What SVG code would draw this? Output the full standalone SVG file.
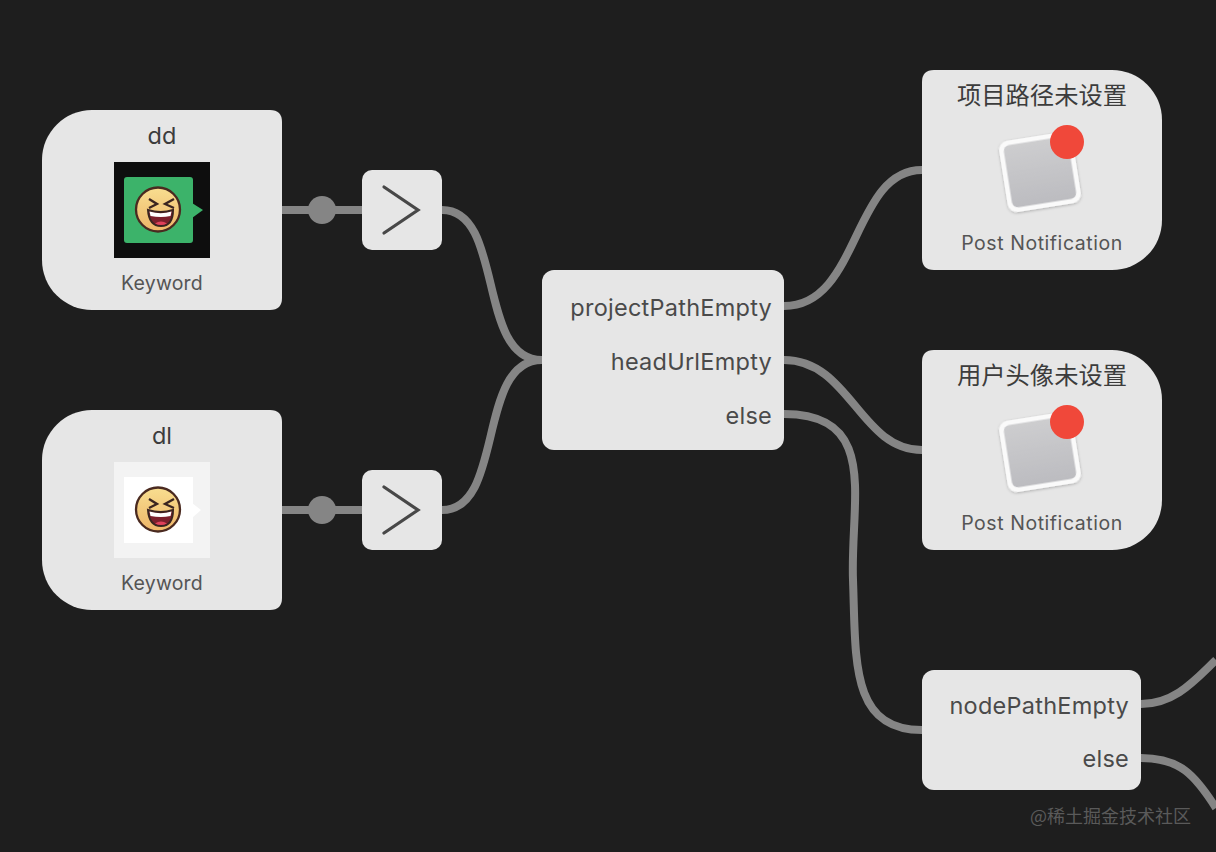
<svg xmlns="http://www.w3.org/2000/svg" width="1216" height="852" viewBox="0 0 1216 852">
<style>
.bg{fill:#1e1e1e}
.n{fill:#e6e6e6}
.c{fill:none;stroke:#858585;stroke-width:8}
.dot{fill:#858585}
.t{font-family:Inter,"Noto Sans CJK SC",sans-serif;fill:#3c3c3c}
.h{font-size:23.500px;text-anchor:middle}
.hz{font-size:24.300px;text-anchor:middle;font-family:"Noto Sans CJK SC",sans-serif}
.s{font-size:19.500px;text-anchor:middle;fill:#555;letter-spacing:.2px}
.p{letter-spacing:.55px}
.o{font-size:23.500px;text-anchor:end;fill:#4a4a4a;letter-spacing:.25px}
.gt{fill:none;stroke:#484848;stroke-width:3.200;stroke-linecap:round;stroke-linejoin:miter}
</style>
<defs>
<linearGradient id="face" x1="0" y1="0" x2="0" y2="1"><stop offset="0" stop-color="#f8de90"/><stop offset="1" stop-color="#eeb568"/></linearGradient>
<linearGradient id="tile" x1="0" y1="0" x2="0" y2="1"><stop offset="0" stop-color="#cdcdcf"/><stop offset="1" stop-color="#bcbcc0"/></linearGradient>
<filter id="sh" x="-20%" y="-20%" width="140%" height="140%"><feDropShadow dx="0" dy="1" stdDeviation="1.500" flood-color="#000" flood-opacity=".25"/></filter>
<g id="emoji">
<circle cx="0" cy="-0.500" r="22" fill="url(#face)" stroke="#4a2a20" stroke-width="2.300"/>
<path d="M-9-11-1-6-9-2M16-11 7-6 16-2" fill="none" stroke="#3a2420" stroke-width="2.300"/>
<path d="M-10 0Q3 4 15 0Q15 16 3 16Q-9 16-10 0Z" fill="#7c1f2c" stroke="#3a2420" stroke-width="2"/>
<path d="M-8.500 1.500Q3 5 13.500 1.500L12.500 6Q3 8-7.500 6Z" fill="#fff"/>
<path d="M-3 13.500Q3 9.500 9 13.500Q3 16.500-3 13.500Z" fill="#e0405a"/>
</g>
<g id="bell">
<g transform="rotate(-9 1040 172)" filter="url(#sh)">
<rect x="1003" y="136" width="74" height="72" rx="9" fill="#fafafa"/>
<rect x="1007.500" y="140.500" width="65" height="63" rx="6" fill="url(#tile)"/>
</g>
<circle cx="1067" cy="142" r="17" fill="#f0483a"/>
</g>
<path id="gt" class="gt" d="M384 187 418 210 384 233"/>
</defs>
<rect class="bg" width="1216" height="852"/>
<g id="connectors">
<path class="c" d="M282 210H362"/>
<circle class="dot" cx="322" cy="210" r="14"/>
<path class="c" d="M282 510H362"/>
<circle class="dot" cx="322" cy="510" r="14"/>
<path class="c" d="M442 210C505 210 476 360 542 360"/>
<path class="c" d="M442 510C505 510 476 360 542 360"/>
<path class="c" d="M784 306C860 306 852 170 922 170"/>
<path class="c" d="M784 360C850 360 860 450 922 450"/>
<path class="c" d="M784 414C880 414 850 500 853 580C856 660 850 730 922 730"/>
<path class="c" d="M1141 704C1175 704 1195 680 1216 660"/>
<path class="c" d="M1141 758C1180 758 1195 775 1216 808"/>
</g>
<g id="node-dd">
<path class="n" d="M92 110H270Q282 110 282 122V298Q282 310 270 310H92A50 50 0 0 1 42 260V160A50 50 0 0 1 92 110Z"/>
<text class="t h" x="162" y="144">dd</text>
<rect x="114" y="162" width="96" height="96" fill="#0e0e0e"/>
<rect x="124" y="177" width="69" height="66" rx="3" fill="#3cb36a"/>
<path d="M192 203 203 210 192 218Z" fill="#3cb36a"/>
<use href="#emoji" x="158" y="210"/>
<text class="t s" x="162" y="290">Keyword</text>
</g>
<g id="node-dl">
<path class="n" d="M92 410H270Q282 410 282 422V598Q282 610 270 610H92A50 50 0 0 1 42 560V460A50 50 0 0 1 92 410Z"/>
<text class="t h" x="162" y="444">dl</text>
<rect x="114" y="462" width="96" height="96" fill="#f3f3f3"/>
<rect x="124" y="477" width="69" height="66" fill="#fff"/>
<path d="M192 503 201 510 192 518Z" fill="#fff"/>
<use href="#emoji" x="158" y="510"/>
<text class="t s" x="162" y="590">Keyword</text>
</g>
<g id="node-gt1">
<rect class="n" x="362" y="170" width="80" height="80" rx="10"/>
<use href="#gt"/>
</g>
<g id="node-gt2">
<rect class="n" x="362" y="470" width="80" height="80" rx="10"/>
<use href="#gt" y="300"/>
</g>
<g id="node-switch1">
<rect class="n" x="542" y="270" width="242" height="180" rx="12"/>
<text class="t o" x="772" y="316">projectPathEmpty</text>
<text class="t o" x="772" y="370">headUrlEmpty</text>
<text class="t o" x="772" y="424">else</text>
</g>
<g id="node-notify1">
<path class="n" d="M934 70H1112A50 50 0 0 1 1162 120V220A50 50 0 0 1 1112 270H934Q922 270 922 258V82Q922 70 934 70Z"/>
<text class="t hz" x="1042" y="104">项目路径未设置</text>
<use href="#bell"/>
<text class="t s p" x="1042" y="250">Post Notification</text>
</g>
<g id="node-notify2">
<path class="n" d="M934 350H1112A50 50 0 0 1 1162 400V500A50 50 0 0 1 1112 550H934Q922 550 922 538V362Q922 350 934 350Z"/>
<text class="t hz" x="1042" y="384">用户头像未设置</text>
<use href="#bell" y="280"/>
<text class="t s p" x="1042" y="530">Post Notification</text>
</g>
<g id="node-switch2">
<rect class="n" x="922" y="670" width="219" height="120" rx="12"/>
<text class="t o" x="1129" y="714">nodePathEmpty</text>
<text class="t o" x="1129" y="767">else</text>
</g>
<text x="1191" y="823" font-family="'Noto Sans CJK SC',sans-serif" font-size="18" fill="#5a5a5a" text-anchor="end">@稀土掘金技术社区</text>
</svg>
